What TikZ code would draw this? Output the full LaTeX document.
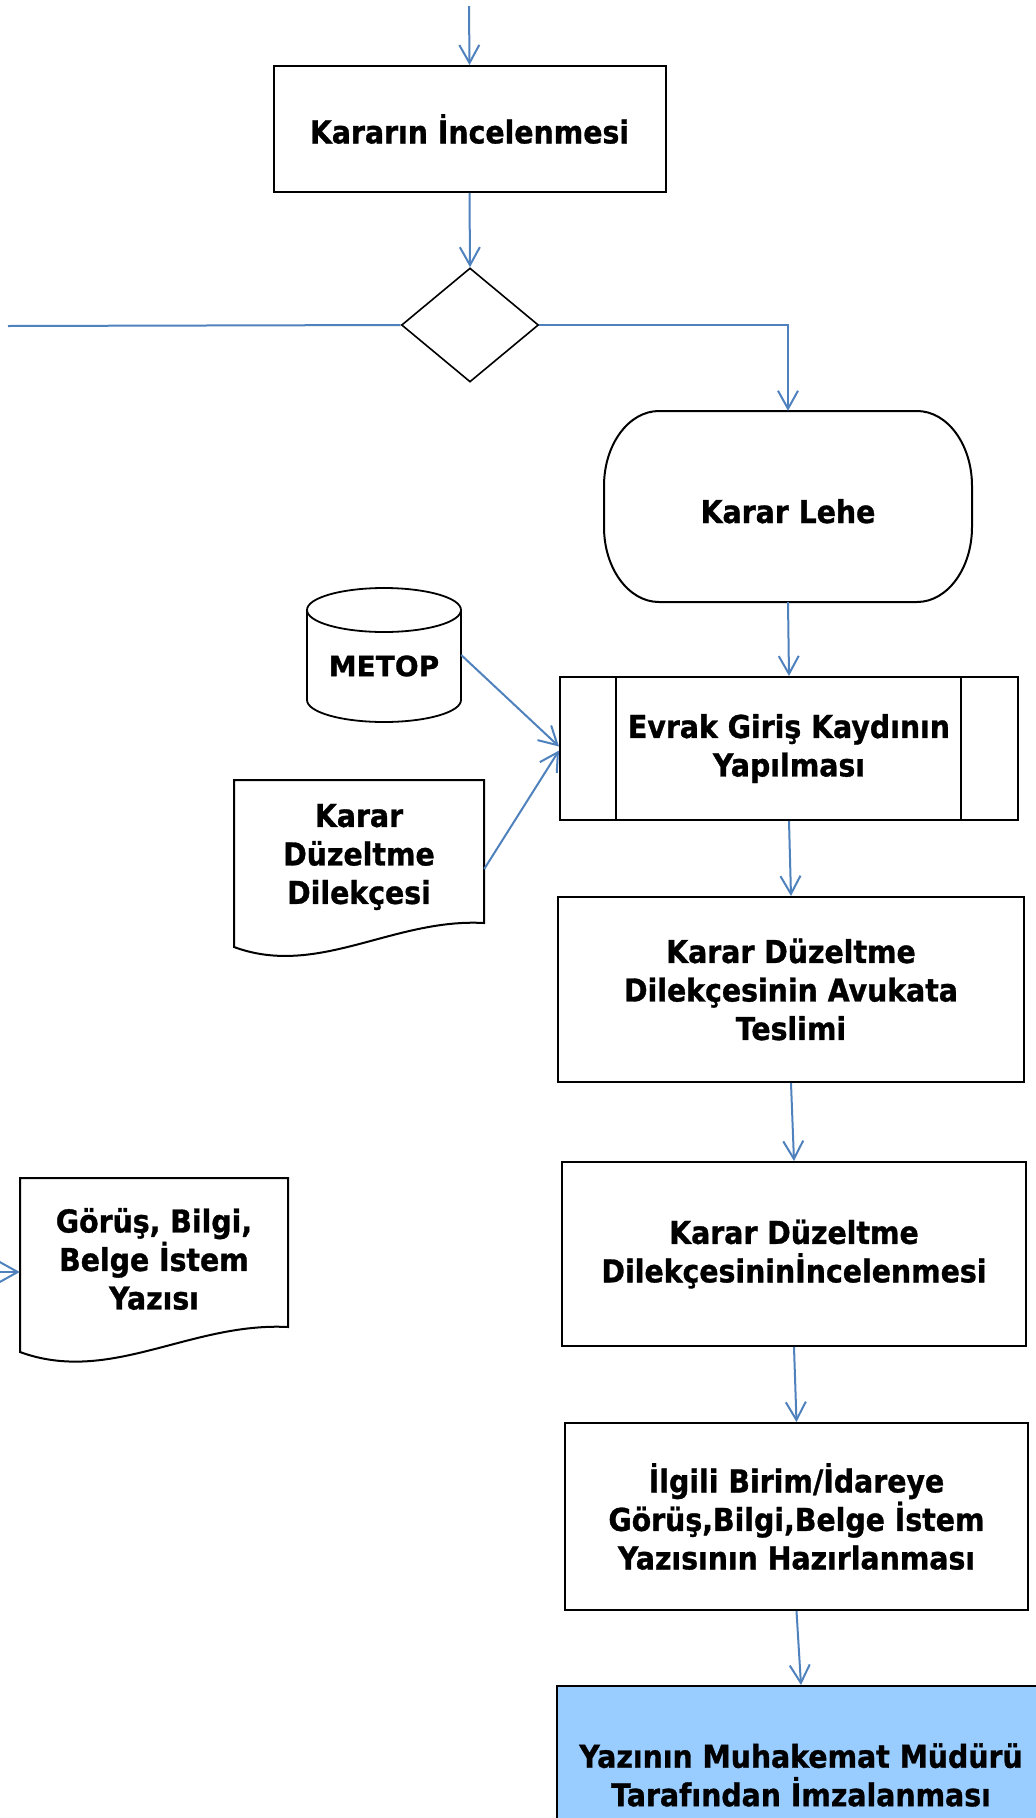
\documentclass[tikz,border=0pt]{standalone}
\usepackage{fontspec}
\usetikzlibrary{arrows.meta,shapes.geometric,calc}
\newfontfamily\flowfont{DejaVu Sans}[FakeStretch=0.9, BoldFeatures={FakeBold=1}]
\newfontfamily\widefont{DejaVu Sans}[BoldFeatures={FakeBold=1}]
\definecolor{connblue}{HTML}{4F81BD}
\definecolor{signfill}{HTML}{99CCFF}
\begin{document}
\begin{tikzpicture}[x=1pt,y=1pt,
  lbl/.style={font=\flowfont\bfseries\fontsize{31.5pt}{38.5pt}\selectfont, align=center, inner sep=0pt, text=black},
  procbox/.style={lbl, draw=black, line width=2pt},
  outline/.style={draw=black, line width=2pt},
  connline/.style={draw=connblue, line width=2pt},
  conn/.style={connline, -{Straight Barb[length=18pt,width=20pt]}}]
\useasboundingbox (0,0) rectangle (1036,-1818);

% main column
\node[procbox, minimum width=392pt, minimum height=126pt] (inc) at (469.5,-129) {Kararın İncelenmesi};
\node[draw=black, line width=1.6pt, diamond, minimum width=137pt, minimum height=114pt, inner sep=0pt] (dec) at (470,-325) {};

\node[lbl, minimum width=368pt, minimum height=191pt, text height=33pt, text depth=0pt] (lehe) at (788,-506.5) {Karar Lehe};
\draw[outline] (659,-411) -- (917,-411) arc[start angle=90,end angle=0,x radius=55,y radius=75]
  -- (972,-527) arc[start angle=0,end angle=-90,x radius=55,y radius=75]
  -- (659,-602) arc[start angle=270,end angle=180,x radius=55,y radius=75]
  -- (604,-486) arc[start angle=180,end angle=90,x radius=55,y radius=75] -- cycle;

\node[procbox, minimum width=458pt, minimum height=143pt] (evrak) at (789,-748.5) {Evrak Giriş Kaydının\\Yapılması};
\draw[outline] ([xshift=57pt]evrak.north west) -- ([xshift=57pt]evrak.south west);
\draw[outline] ([xshift=-58pt]evrak.north east) -- ([xshift=-58pt]evrak.south east);

\node[procbox, minimum width=466pt, minimum height=185pt] (avuk) at (791,-989.5) {Karar Düzeltme\\Dilekçesinin Avukata\\Teslimi};
\node[procbox, minimum width=464pt, minimum height=184pt] (incel) at (794,-1254) {Karar Düzeltme\\Dilekçesininİncelenmesi};
\node[procbox, minimum width=463pt, minimum height=187pt] (ilgili) at (796.5,-1516.5) {İlgili Birim/İdareye\\Görüş,Bilgi,Belge İstem\\Yazısının Hazırlanması};
\node[procbox, fill=signfill, minimum width=488pt, minimum height=178pt] (imza) at (801,-1775) {Yazının Muhakemat Müdürü\\Tarafından İmzalanması};

% METOP database
\draw[outline, line width=1.8pt] (384,-610) ellipse[x radius=77, y radius=22];
\draw[outline, line width=1.8pt] (307,-610) -- (307,-700) arc[start angle=180,end angle=360,x radius=77,y radius=22] -- (461,-610);
\node[lbl, font=\widefont\bfseries\fontsize{28pt}{34pt}\selectfont, minimum width=154pt] (metop) at (384,-666) {METOP};

% document: Karar Duzeltme Dilekcesi
\draw[outline] (234,-947) -- (234,-780) -- (484,-780) -- (484,-923)
  .. controls (393,-918) and (318,-978) .. (234,-947) -- cycle;
\node[lbl, minimum width=250pt] (doc1) at (359,-857) {Karar\\Düzeltme\\Dilekçesi};

% document: Gorus, Bilgi, Belge Istem Yazisi
\draw[outline] (20,-1352) -- (20,-1178) -- (288,-1178) -- (288,-1327)
  .. controls (190,-1322) and (110,-1385) .. (20,-1352) -- cycle;
\node[lbl, minimum width=268pt] (gorus) at (154,-1259) {Görüş, Bilgi,\\Belge İstem\\Yazısı};

% connectors
\coordinate (topin) at (469,-6);
\coordinate (leftend) at (8,-326);
\coordinate (gorusin) at (0,-1272);
\draw[conn] (topin) -- (inc.north);
\draw[conn] (inc.south) -- (dec.north);
\draw[connline] (dec.west) -- (leftend);
\draw[conn] (dec.east) -| (lehe.north);
\draw[conn] (lehe.south) -- (evrak.north);
\draw[conn] ([yshift=11pt]metop.east) -- ([yshift=2pt]evrak.west);
\draw[conn] ([yshift=-12pt]doc1.east) -- ([yshift=-2pt]evrak.west);
\draw[conn] (evrak.south) -- (avuk.north);
\draw[conn] (avuk.south) -- (incel.north);
\draw[conn] (incel.south) -- (ilgili.north);
\draw[conn] (ilgili.south) -- (imza.north);
\draw[conn] (gorusin) -- ([yshift=-13pt]gorus.west);
\end{tikzpicture}
\end{document}
